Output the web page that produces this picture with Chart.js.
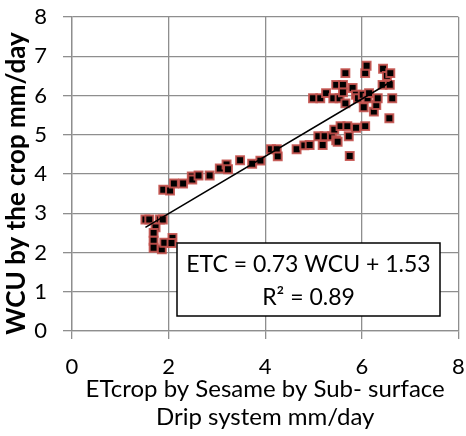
<!DOCTYPE html>
<html>
<head>
<meta charset="utf-8">
<script src="https://cdn.jsdelivr.net/npm/chart.js@4.4.0/dist/chart.umd.min.js"></script>
<style>
  html, body { margin: 0; padding: 0; background: #fff; }
</style>
</head>
<body>
<canvas id="sesameChart" width="466" height="436"></canvas>
<script>
// ETcrop (x) and WCU (y)
const etcrop = [
  1.52, 1.60, 1.82, 1.88, 1.73, 1.69, 1.69, 1.69, 1.86, 1.91, 2.08, 2.06,
  1.89, 2.03, 2.11, 2.30, 2.48, 2.49, 2.62, 2.85, 3.06, 3.20, 3.23, 3.48, 3.73, 3.90, 4.12, 4.24, 4.26,
  4.65, 4.81, 4.92, 5.19, 5.10, 5.23, 5.38, 5.47, 5.50, 5.43, 5.56, 5.70, 5.73, 5.88, 6.07, 5.75,
  4.99, 5.14, 5.26, 5.41, 5.54, 5.47, 5.61, 5.61, 5.66, 5.66, 5.81, 5.88, 5.92, 6.02, 6.04,
  6.07, 6.10, 6.12, 6.15, 6.25, 6.30, 6.33, 6.43, 6.44, 6.52, 6.58, 6.59, 6.63, 6.57
];
const wcu = [
  2.84, 2.84, 2.84, 2.84, 2.64, 2.50, 2.30, 2.12, 2.08, 2.25, 2.37, 2.24,
  3.60, 3.58, 3.76, 3.76, 3.94, 3.86, 3.96, 3.96, 4.14, 4.24, 4.12, 4.35, 4.26, 4.34, 4.63, 4.63, 4.45,
  4.63, 4.73, 4.74, 4.74, 4.96, 4.96, 4.96, 4.86, 4.82, 5.13, 5.22, 5.22, 4.96, 5.18, 5.22, 4.46,
  5.93, 5.93, 6.06, 5.93, 5.93, 6.27, 6.27, 6.08, 5.80, 6.57, 6.19, 6.02, 5.93, 6.02, 5.70,
  6.57, 6.76, 5.93, 6.06, 5.59, 5.76, 5.93, 6.27, 6.68, 6.50, 6.27, 6.57, 5.93, 5.42
];

const trendSlope = 0.73;
const trendIntercept = 1.53;
const eqLine1 = "ETC = 0.73 WCU + 1.53";
const eqLine2 = "R\u00B2 = 0.89";

const xTitle = ["ETcrop by Sesame by Sub- surface", "Drip system mm/day"];
// trailing spaces push the rotated title a little lower, like the original
const yTitle = "WCU by the crop mm/day   ";

const points = etcrop.map((x, i) => ({ x: x, y: wcu[i] }));
const xMin = Math.min(...etcrop);
const xMax = Math.max(...etcrop);
const trendPoints = [xMin, xMax].map(x => ({ x: x, y: trendSlope * x + trendIntercept }));

const fontFam = "Lato, 'Open Sans', sans-serif";
const gridGray = "#8e8e8e";

// box with the trendline equation, drawn over the plot
const equationBox = {
  id: "equationBox",
  afterDatasetsDraw(chart) {
    const ctx = chart.ctx;
    const bx = 177, by = 243, bw = 263, bh = 73;
    ctx.save();
    ctx.fillStyle = "#fff";
    ctx.fillRect(bx, by, bw, bh);
    ctx.strokeStyle = "#000";
    ctx.lineWidth = 1.5;
    ctx.strokeRect(bx, by, bw, bh);
    ctx.fillStyle = "#000";
    ctx.font = "23px " + fontFam;
    ctx.textAlign = "center";
    ctx.textBaseline = "middle";
    ctx.fillText(eqLine1, bx + bw / 2, by + 22);
    ctx.fillText(eqLine2, bx + bw / 2, by + 55);
    ctx.restore();
  }
};

new Chart(document.getElementById("sesameChart"), {
  type: "scatter",
  data: {
    datasets: [
      {
        type: "line",
        label: "trend",
        data: trendPoints,
        borderColor: "#000",
        borderWidth: 1.5,
        pointRadius: 0,
        fill: false
      },
      {
        label: "WCU",
        data: points,
        pointStyle: "rect",
        pointRadius: 5.6,
        pointHoverRadius: 5.6,
        backgroundColor: "#000",
        borderColor: "rgba(197, 82, 78, 0.9)",
        borderWidth: 2
      }
    ]
  },
  options: {
    responsive: false,
    animation: false,
    events: [],
    layout: { padding: { top: 17, right: 7, left: 0, bottom: 0 } },
    plugins: {
      legend: { display: false },
      tooltip: { enabled: false }
    },
    scales: {
      x: {
        type: "linear",
        min: 0,
        max: 8,
        afterFit: s => { s.height = 105; s.paddingLeft = 0; s.paddingRight = 0; },
        ticks: { stepSize: 2, color: "#000", font: { family: fontFam, size: 22 }, padding: 15 },
        grid: { color: gridGray, lineWidth: 1.3, tickLength: 8 },
        border: { color: gridGray, width: 1.3 },
        title: {
          display: true,
          text: xTitle,
          color: "#000",
          font: { family: fontFam, size: 24, lineHeight: 1.2 },
          padding: { top: 0, bottom: 4 }
        }
      },
      y: {
        min: 0,
        max: 8,
        afterFit: s => { s.width = 72; s.paddingTop = 0; s.paddingBottom = 0; },
        ticks: { stepSize: 1, color: "#000", font: { family: fontFam, size: 22 }, padding: 16 },
        grid: { color: gridGray, lineWidth: 1.3, tickLength: 9 },
        border: { color: gridGray, width: 1.3 },
        title: {
          display: true,
          text: yTitle,
          color: "#000",
          font: { family: fontFam, size: 26, weight: "bold", lineHeight: 1.2 },
          padding: { top: 1, bottom: 0 }
        }
      }
    }
  },
  plugins: [equationBox]
});
</script>
</body>
</html>
